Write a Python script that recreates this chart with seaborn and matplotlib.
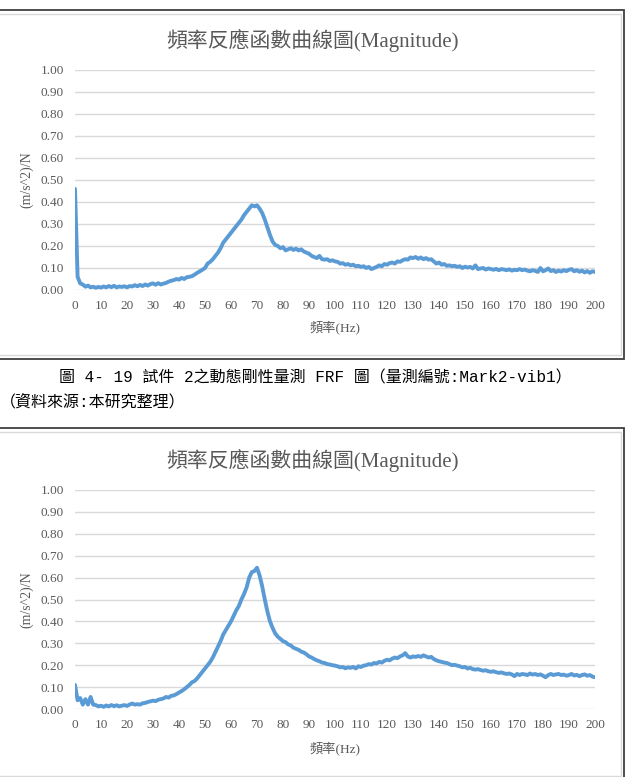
import numpy as np
import pandas as pd
import seaborn as sns
import matplotlib.pyplot as plt
from matplotlib.patches import Rectangle

sns.set_style('white')
plt.rcParams['font.family'] = ['Liberation Serif', 'Noto Sans CJK TC']

# frequency grid (Hz), one point per Hz
freq = list(range(0, 201))

# FRF magnitude, (m/s^2)/N
mag_vib1 = [
    0.46, 0.06, 0.03, 0.025, 0.015, 0.02, 0.012, 0.015, 0.01, 0.014,
    0.011, 0.016, 0.012, 0.018, 0.013, 0.019, 0.012, 0.016, 0.014, 0.017,
    0.012, 0.018, 0.016, 0.022, 0.017, 0.023, 0.018, 0.025, 0.02, 0.027,
    0.03, 0.024, 0.031, 0.025, 0.029, 0.032, 0.038, 0.042, 0.045, 0.05,
    0.047, 0.055, 0.05, 0.058, 0.06, 0.063, 0.07, 0.078, 0.085, 0.092,
    0.1, 0.12, 0.128, 0.14, 0.155, 0.17, 0.19, 0.215, 0.23, 0.245,
    0.26, 0.275, 0.29, 0.305, 0.32, 0.34, 0.355, 0.37, 0.385, 0.38,
    0.385, 0.37, 0.35, 0.32, 0.285, 0.25, 0.22, 0.205, 0.2, 0.19,
    0.195, 0.18, 0.185, 0.19, 0.182, 0.188, 0.18, 0.185, 0.175, 0.17,
    0.165, 0.155, 0.15, 0.145, 0.155, 0.14, 0.138, 0.14, 0.132, 0.135,
    0.13, 0.128, 0.12, 0.122, 0.115, 0.118, 0.112, 0.115, 0.108, 0.11,
    0.105, 0.108, 0.1, 0.105, 0.095, 0.1, 0.105, 0.112, 0.108, 0.118,
    0.115, 0.122, 0.125, 0.12, 0.13, 0.128, 0.135, 0.14, 0.138, 0.148,
    0.145, 0.15, 0.142, 0.148, 0.14, 0.145, 0.138, 0.14, 0.13, 0.12,
    0.125, 0.115, 0.118, 0.11, 0.112, 0.108, 0.11, 0.105, 0.108, 0.1,
    0.106, 0.102, 0.105, 0.098, 0.112, 0.095, 0.098, 0.1, 0.093, 0.098,
    0.095, 0.092, 0.096, 0.09, 0.095, 0.093, 0.09, 0.094, 0.088, 0.092,
    0.09, 0.095, 0.09, 0.093, 0.088, 0.085, 0.09, 0.087, 0.082, 0.1,
    0.085, 0.09, 0.098, 0.086, 0.09, 0.082, 0.088, 0.084, 0.09, 0.086,
    0.092, 0.095, 0.085, 0.09, 0.083, 0.088, 0.08, 0.086, 0.078, 0.085,
    0.082,
]

mag_vib2 = [
    0.11, 0.04, 0.05, 0.02, 0.045, 0.02, 0.055, 0.02, 0.018, 0.012,
    0.015, 0.01, 0.016, 0.012, 0.018, 0.013, 0.017, 0.012, 0.015, 0.018,
    0.014, 0.02, 0.025, 0.02, 0.022, 0.02, 0.026, 0.028, 0.032, 0.035,
    0.038, 0.036, 0.042, 0.045, 0.048, 0.055, 0.052, 0.06, 0.062, 0.068,
    0.075, 0.082, 0.09, 0.1, 0.11, 0.122, 0.128, 0.14, 0.155, 0.17,
    0.185, 0.2, 0.215, 0.235, 0.26, 0.285, 0.31, 0.34, 0.36, 0.38,
    0.4, 0.425, 0.45, 0.47, 0.5, 0.525, 0.555, 0.6, 0.625, 0.63,
    0.645, 0.61, 0.56, 0.5, 0.445, 0.4, 0.37, 0.345, 0.33, 0.32,
    0.31, 0.305, 0.295, 0.29, 0.28, 0.275, 0.27, 0.262, 0.258, 0.25,
    0.24, 0.235, 0.228, 0.222, 0.218, 0.212, 0.21, 0.205, 0.203, 0.2,
    0.198, 0.195, 0.19, 0.192, 0.186, 0.19, 0.188, 0.192, 0.185, 0.195,
    0.192, 0.198, 0.2, 0.205, 0.203, 0.21, 0.208, 0.215, 0.212, 0.22,
    0.225, 0.222, 0.23, 0.235, 0.232, 0.24, 0.245, 0.255, 0.24, 0.235,
    0.24, 0.238, 0.242, 0.238, 0.245, 0.24, 0.235, 0.238, 0.228, 0.222,
    0.218, 0.215, 0.212, 0.21, 0.205, 0.2, 0.202, 0.198, 0.195, 0.19,
    0.192, 0.185, 0.188, 0.182, 0.18, 0.182, 0.178, 0.175, 0.177, 0.172,
    0.17, 0.172, 0.168, 0.165, 0.167, 0.163, 0.16, 0.162, 0.158, 0.15,
    0.16, 0.155, 0.16, 0.158, 0.155, 0.162, 0.157, 0.16, 0.155, 0.158,
    0.152, 0.145, 0.155, 0.16, 0.155, 0.158, 0.16, 0.155, 0.157, 0.152,
    0.155, 0.16, 0.153, 0.156, 0.15, 0.155, 0.158, 0.152, 0.155, 0.148,
    0.145,
]

xticks = list(range(0, 201, 10))
yticks = [0.0, 0.1, 0.2, 0.3, 0.4, 0.5, 0.6, 0.7, 0.8, 0.9, 1.0]
ytick_labels = ['0.00', '0.10', '0.20', '0.30', '0.40', '0.50',
                '0.60', '0.70', '0.80', '0.90', '1.00']

title = '頻率反應函數曲線圖(Magnitude)'
xlabel = '頻率(Hz)'
ylabel = '(m/s^2)/N'
caption1 = '圖 4- 19 試件 2之動態剛性量測 FRF 圖（量測編號:Mark2-vib1）'
caption2 = '（資料來源:本研究整理）'

W, H = 629, 777
fig = plt.figure(figsize=(W / 100, H / 100), dpi=100)
fig.patch.set_facecolor('white')

grey = '#595959'
blue = '#5B9BD5'


def px(x0, y0, x1, y1):
    # pixel box (top-left origin) -> figure fraction rect
    return [x0 / W, 1 - y1 / H, (x1 - x0) / W, (y1 - y0) / H]


def panel(y_top, y_bottom, dark_top):
    fig.patches.append(Rectangle((-0.01, 1 - y_bottom / H), (624 + 6) / W, (y_bottom - dark_top) / H,
                                 transform=fig.transFigure, fill=False,
                                 edgecolor='#404040', linewidth=1.3))
    fig.patches.append(Rectangle((-3 / W, 1 - (y_bottom - 4) / H), 624 / W, (y_bottom - 4 - y_top) / H,
                                 transform=fig.transFigure, fill=False,
                                 edgecolor='#d9d9d9', linewidth=1.0))


def draw_chart(box, values, title_y, xlabel_y):
    ax = fig.add_axes(box)
    df = pd.DataFrame({'freq': freq, 'mag': values})
    sns.lineplot(data=df, x='freq', y='mag', ax=ax, color=blue, linewidth=2.8)
    ax.set_xlim(0, 200)
    ax.set_ylim(0, 1.0)
    ax.set_xticks(xticks)
    ax.set_xticklabels([str(t) for t in xticks])
    ax.set_yticks(yticks)
    ax.set_yticklabels(ytick_labels)
    ax.tick_params(axis='both', length=0, labelsize=9.5, labelcolor=grey)
    ax.tick_params(axis='x', pad=7)
    ax.tick_params(axis='y', pad=8)
    for s in ax.spines.values():
        s.set_visible(False)
    ax.yaxis.grid(True, color='#d9d9d9', linewidth=1.0)
    ax.set_axisbelow(True)
    ax.set_xlabel('')
    ax.set_ylabel('')
    fig.text(312 / W, 1 - title_y / H, title, ha='center', va='center',
             fontsize=15, color=grey)
    fig.text(335 / W, 1 - xlabel_y / H, xlabel, ha='center', va='center',
             fontsize=9.5, color=grey)
    fig.text(27 / W, 1 - (title_y + 140) / H, ylabel, ha='center', va='center',
             rotation=90, fontsize=10, color=grey)
    return ax


panel(14, 359, 10)
draw_chart(px(75, 70, 595, 290), mag_vib1, 40, 327)

panel(432, 780, 428)
draw_chart(px(75, 490, 595, 709), mag_vib2, 460, 748)

fig.text(315 / W, 1 - 378 / H, caption1, ha='center', va='center', fontsize=11.5,
         color='black', family=['Liberation Mono', 'Noto Sans CJK TC'])
fig.text(0, 1 - 402 / H, caption2, ha='left', va='center', fontsize=11.5,
         color='black', family=['Liberation Mono', 'Noto Sans CJK TC'])

fig.savefig('out.png', dpi=100)
